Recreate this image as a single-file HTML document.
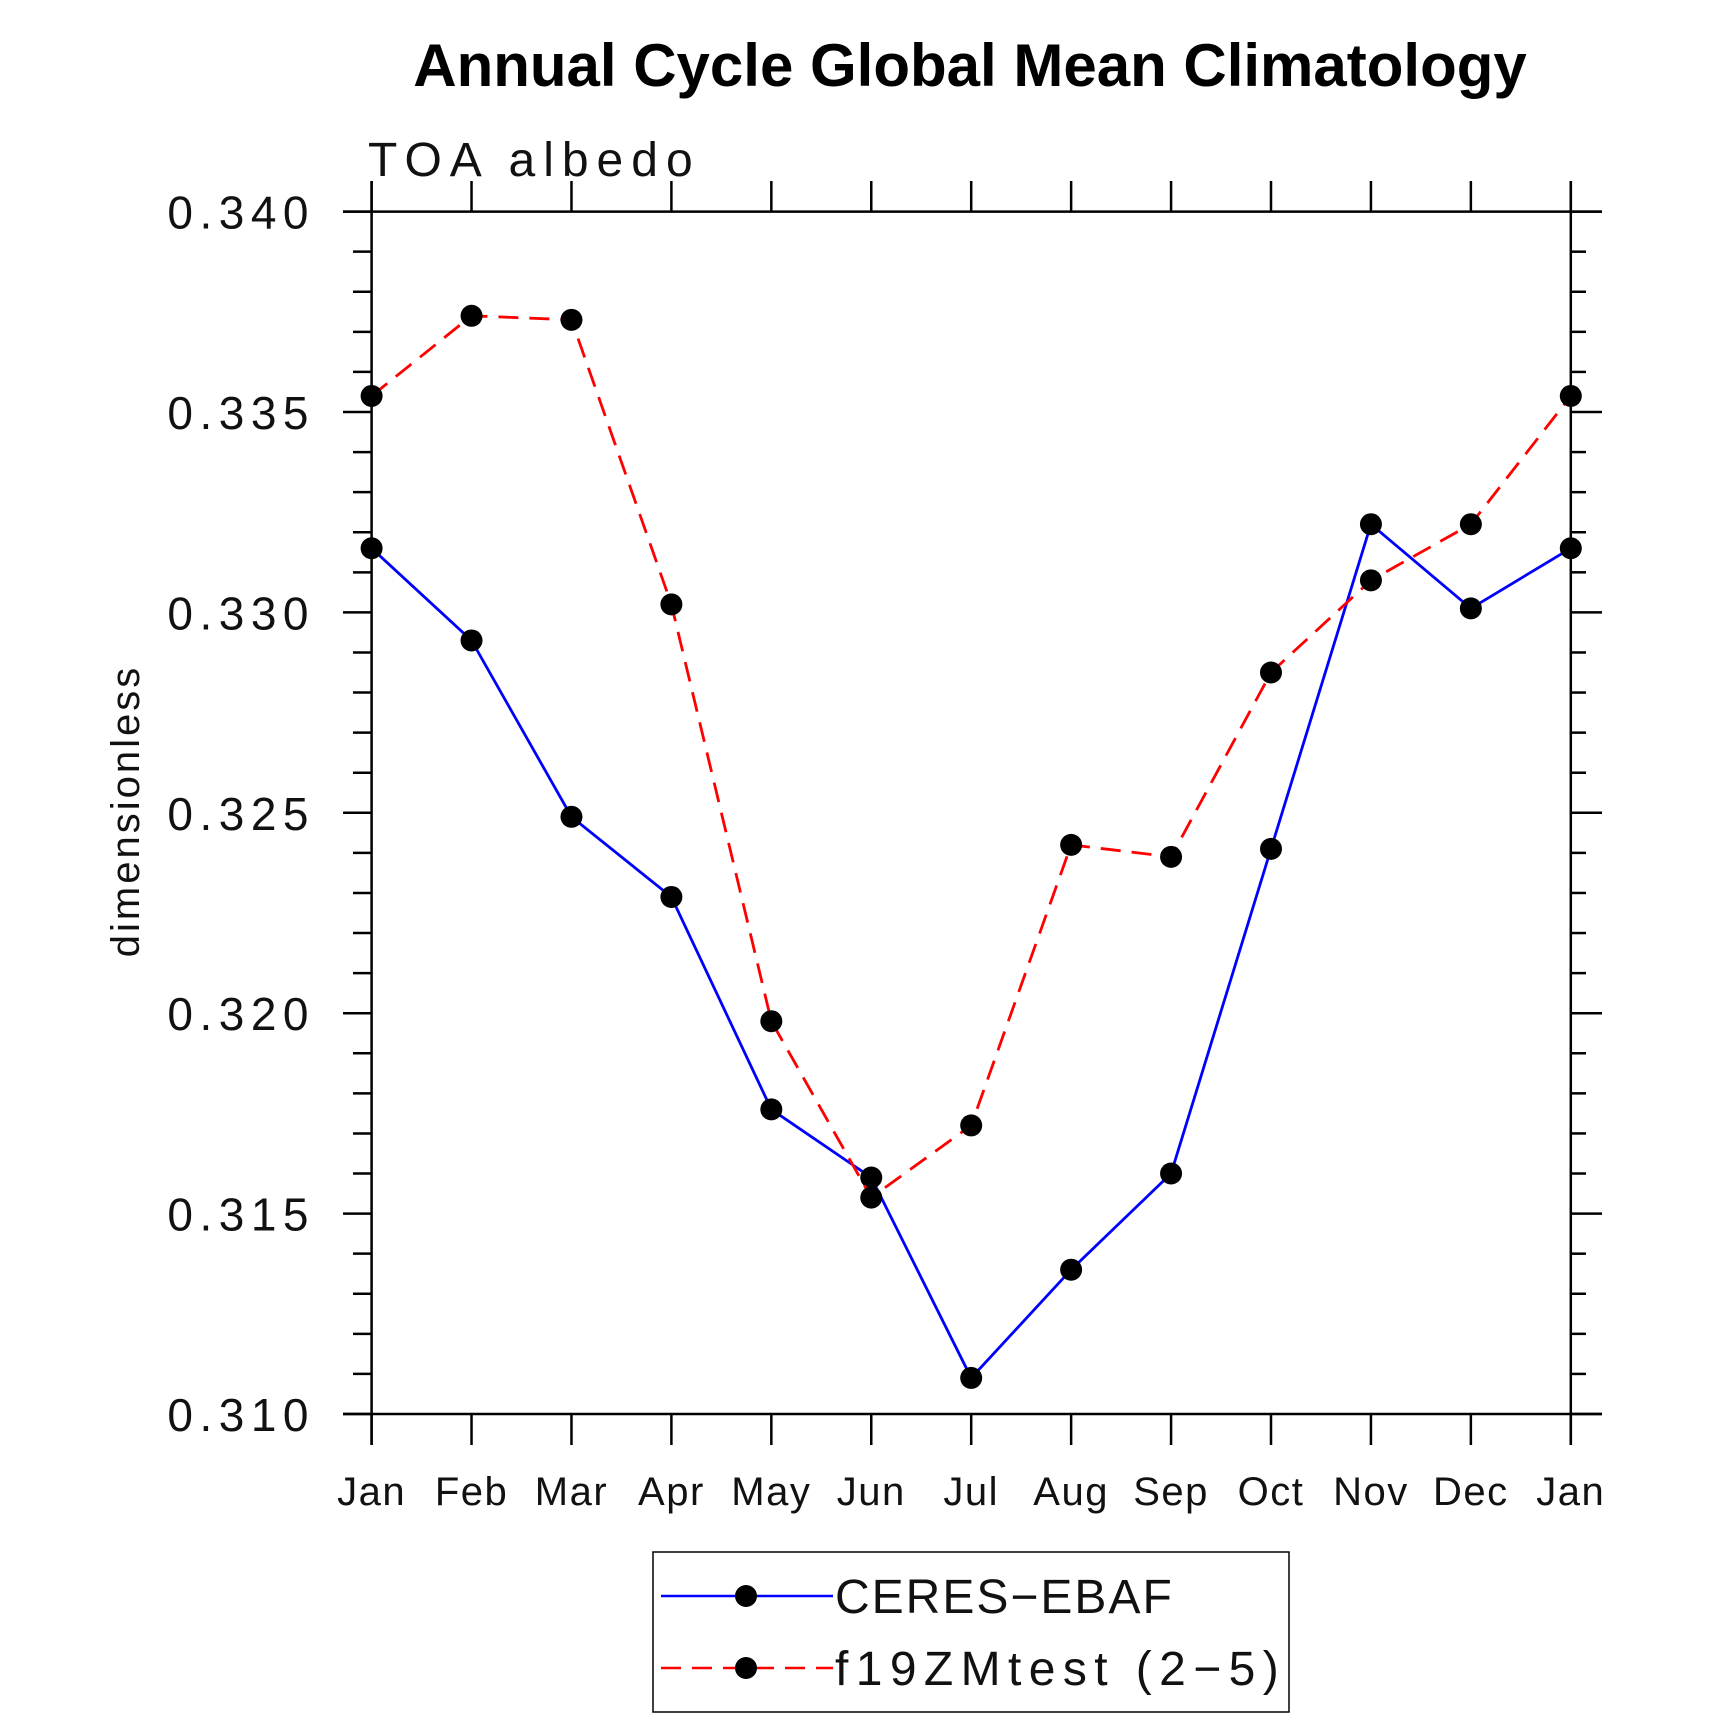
<!DOCTYPE html>
<html><head><meta charset="utf-8"><style>
html,body{margin:0;padding:0;background:#fff;}
svg{display:block;font-family:"Liberation Sans",sans-serif;}
</style></head><body>
<svg id="chart" width="1710" height="1718" viewBox="0 0 1710 1718" xmlns="http://www.w3.org/2000/svg">
<text x="970" y="86" text-anchor="middle" font-size="60" font-weight="bold">Annual Cycle Global Mean Climatology</text>
<text x="368" y="176" font-size="48" fill="#111" letter-spacing="8">TOA albedo</text>
<text transform="translate(139,811) rotate(-90)" text-anchor="middle" font-size="40" fill="#111" letter-spacing="3">dimensionless</text>
<g id="axes"></g>
<g id="series"></g>
<g>
<rect x="653" y="1552" width="636" height="160" fill="none" stroke="#000" stroke-width="1.5"/>
<g>
<line x1="661" y1="1596" x2="833" y2="1596" stroke="#0000ff" stroke-width="2.5"/>
<circle cx="746" cy="1596" r="11" fill="#000"/>
<text x="835" y="1613" font-size="48" fill="#111" letter-spacing="2">CERES−EBAF</text>
</g>
<g>
<line x1="661" y1="1668" x2="833" y2="1668" stroke="#ff0000" stroke-width="2.5" stroke-dasharray="20,11"/>
<circle cx="746" cy="1668" r="11" fill="#000"/>
<text x="835" y="1685" font-size="48" fill="#111" letter-spacing="7.4">f19ZMtest (2−5)</text>
</g>
</g>
</svg>
<script>
const months = ["Jan","Feb","Mar","Apr","May","Jun","Jul","Aug","Sep","Oct","Nov","Dec","Jan"];
const ceres = [0.3316,0.3293,0.3249,0.3229,0.3176,0.3159,0.3109,0.3136,0.3160,0.3241,0.3322,0.3301,0.3316];
const model = [0.3354,0.3374,0.3373,0.3302,0.3198,0.3154,0.3172,0.3242,0.3239,0.3285,0.3308,0.3322,0.3354];
const yTicks = [0.310,0.315,0.320,0.325,0.330,0.335,0.340];

const NS="http://www.w3.org/2000/svg";
const X0=371.6,X1=1570.8,Y0=1414,Y1=211.6,YMIN=0.310,YMAX=0.340;
const xS=i=>X0+(X1-X0)*i/(months.length-1);
const yS=v=>Y0-(Y0-Y1)*(v-YMIN)/(YMAX-YMIN);
function mk(tag,attrs,parent){const e=document.createElementNS(NS,tag);for(const k in attrs)e.setAttribute(k,attrs[k]);parent.appendChild(e);return e;}
const ax=document.getElementById('axes');
const ln=(a,b,c,d)=>mk('line',{x1:a,y1:b,x2:c,y2:d,stroke:'#000','stroke-width':2.5},ax);
ln(343,Y1,1602,Y1);ln(343,Y0,1602,Y0);ln(X0,181,X0,1445);ln(X1,181,X1,1445);
for(let i=0;i<months.length;i++){
  const x=xS(i);
  ln(x,181,x,Y1);ln(x,Y0,x,1445);
  const t=mk('text',{x:x,y:1505,'text-anchor':'middle','font-size':40,fill:'#111','letter-spacing':1.5},ax);
  
  
  t.textContent=months[i];
}
for(let k=0;k<=30;k++){
  const v=YMIN+k*0.001,y=yS(v);
  if(k%5===0) continue;
  ln(353,y,X0,y);ln(X1,y,1586,y);
}
yTicks.forEach(v=>{
  const y=yS(v);
  ln(343,y,X0,y);ln(X1,y,1602,y);
  const t=mk('text',{x:315,y:y+17,'text-anchor':'end','font-size':46,fill:'#111','letter-spacing':6.5},ax);
  
  
  t.textContent=v.toFixed(3);
});
const sg=document.getElementById('series');
function series(vals,color,dash,name){
  const g=mk('g',{},sg);
  
  
  const pts=vals.map((v,i)=>xS(i)+','+yS(v)).join(' ');
  const a={points:pts,fill:'none',stroke:color,'stroke-width':2.8};
  if(dash)a['stroke-dasharray']=dash;
  mk('polyline',a,g);
  vals.forEach((v,i)=>{const c=mk('circle',{cx:xS(i),cy:yS(v),r:11,fill:'#000'},g);
    
    });
}
series(ceres,'#0000ff',null,'ceres-ebaf-line');
series(model,'#ff0000','20,11','f19zmtest-line');
</script>
</body></html>
